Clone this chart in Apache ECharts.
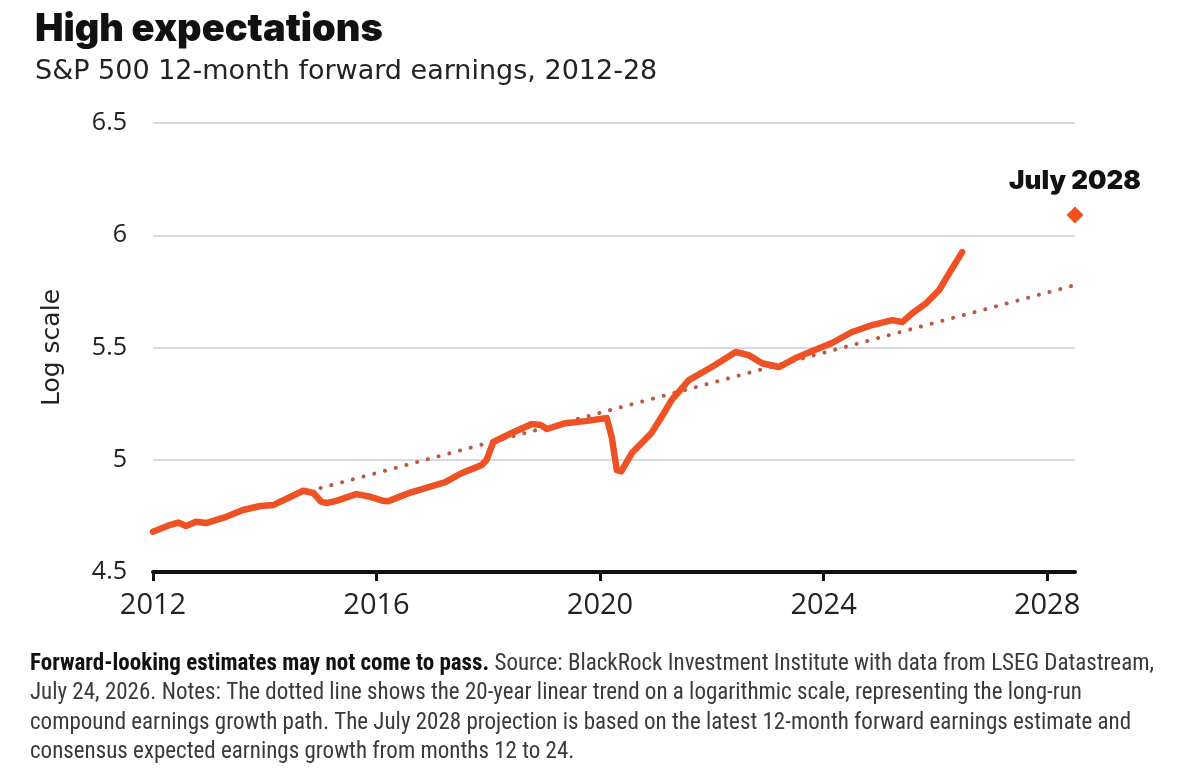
<!DOCTYPE html>
<html>
<head>
    <meta charset="UTF-8">
    <title>High expectations</title>
    <script src="https://cdn.jsdelivr.net/npm/echarts@6/dist/echarts.min.js"></script>
    <style>
        html, body { margin: 0; padding: 0; background: #fff; }
        #chart { width: 1179px; height: 771px; }
    </style>
</head>
<body>
    <div id="chart"></div>
    <script type="text/javascript">
        // S&P 500 12-month forward earnings (log)
        var years = [2012.0, 2012.3, 2012.45, 2012.59, 2012.77, 2012.95, 2013.31, 2013.61, 2013.92, 2014.15,
            2014.38, 2014.69, 2014.87, 2015.01, 2015.1, 2015.28, 2015.64, 2015.89, 2016.12, 2016.21,
            2016.35, 2016.62, 2017.23, 2017.52, 2017.88, 2017.97, 2018.09, 2018.42, 2018.78, 2018.94,
            2019.05, 2019.38, 2019.74, 2020.12, 2020.21, 2020.3, 2020.38, 2020.57, 2020.92, 2021.1,
            2021.28, 2021.59, 2022.0, 2022.43, 2022.66, 2022.9, 2023.2, 2023.5, 2023.92, 2024.15,
            2024.51, 2024.87, 2025.23, 2025.41, 2025.59, 2025.84, 2026.07, 2026.25, 2026.48];
        var earnings = [4.679, 4.709, 4.72, 4.705, 4.724, 4.718, 4.746, 4.776, 4.794, 4.798,
            4.825, 4.862, 4.852, 4.813, 4.807, 4.817, 4.847, 4.835, 4.817, 4.815,
            4.829, 4.855, 4.90, 4.94, 4.976, 4.999, 5.079, 5.119, 5.159, 5.155,
            5.137, 5.163, 5.172, 5.186, 5.10, 4.954, 4.948, 5.03, 5.119, 5.19,
            5.266, 5.355, 5.413, 5.48, 5.466, 5.43, 5.413, 5.453, 5.497, 5.52,
            5.569, 5.60, 5.622, 5.613, 5.653, 5.698, 5.756, 5.831, 5.925];

        // 20-year log-linear trend (dotted)
        var trendYears = [2015.0, 2028.5];
        var trendValues = [4.874, 5.778];

        // July 2028 projection
        var projYear = 2028.5;
        var projValue = 6.09;
        var projLabel = 'July 2028';

        var xTicks = [2012, 2016, 2020, 2024, 2028];

        var lineData = years.map(function (y, i) { return [y, earnings[i]]; });
        var trendData = trendYears.map(function (y, i) { return [y, trendValues[i]]; });

        var chart = echarts.init(document.getElementById('chart'));
        var font = '"Open Sans", "Noto Sans", sans-serif';
        var wideFont = '"DejaVu Sans", "Open Sans", sans-serif';
        var boldFont = 'Inter, Roboto, sans-serif';
        var noteFont = '"Liberation Sans Narrow", "Roboto Condensed", Roboto, sans-serif';

        var option = {
            animation: false,
            backgroundColor: '#fff',
            title: {
                text: 'High expectations',
                subtext: 'S&P 500 12-month forward earnings, 2012-28',
                left: 30,
                top: 6,
                itemGap: 9,
                textStyle: { fontFamily: boldFont, fontSize: 38, fontWeight: 900, color: '#111' },
                subtextStyle: { fontFamily: wideFont, fontSize: 27, color: '#222' }
            },
            grid: { left: 153, right: 104, top: 123, bottom: 199 },
            xAxis: {
                type: 'value',
                min: 2012,
                max: 2028.5,
                interval: 4,
                axisLine: { lineStyle: { color: '#111', width: 4 } },
                axisTick: { show: true, length: 9, customValues: xTicks, lineStyle: { color: '#111', width: 3 } },
                axisLabel: {
                    customValues: xTicks,
                    formatter: function (v) { return String(v); },
                    fontFamily: font, fontSize: 29, color: '#222', margin: 19
                },
                splitLine: { show: false }
            },
            yAxis: {
                type: 'value',
                min: 4.5,
                max: 6.5,
                interval: 0.5,
                name: 'Log scale',
                nameLocation: 'middle',
                nameRotate: 90,
                nameGap: 88,
                nameTextStyle: { fontFamily: wideFont, fontSize: 25, color: '#222' },
                axisLine: { show: false },
                axisTick: { show: false },
                axisLabel: { fontFamily: font, fontSize: 25, color: '#222', margin: 26 },
                splitLine: { lineStyle: { color: '#d9d9e1', width: 2 } }
            },
            series: [
                {
                    name: 'Trend',
                    type: 'line',
                    data: trendData,
                    symbol: 'none',
                    z: 1,
                    lineStyle: { color: '#bb5840', width: 4, type: [0.1, 11], cap: 'round' }
                },
                {
                    name: 'Forward earnings',
                    type: 'line',
                    data: lineData,
                    symbol: 'none',
                    z: 2,
                    lineStyle: { color: '#ee5123', width: 6.5, join: 'round', cap: 'round' }
                },
                {
                    name: 'Projection',
                    type: 'scatter',
                    data: [[projYear, projValue]],
                    clip: false,
                    symbol: 'diamond',
                    symbolSize: [17, 17],
                    itemStyle: { color: '#f0501e', opacity: 1 },
                    z: 3,
                    label: {
                        show: true,
                        position: 'top',
                        distance: 12,
                        formatter: projLabel,
                        opacity: 1,
                        fontFamily: boldFont, fontSize: 26, fontWeight: 900, color: '#111'
                    }
                }
            ],
            graphic: [
                {
                    type: 'text',
                    left: 30,
                    top: 649,
                    style: {
                        text: '{b|Forward-looking estimates may not come to pass.} Source: BlackRock Investment Institute with data from LSEG Datastream,\n' +
                            'July 24, 2026. Notes: The dotted line shows the 20-year linear trend on a logarithmic scale, representing the long-run\n' +
                            'compound earnings growth path. The July 2028 projection is based on the latest 12-month forward earnings estimate and\n' +
                            'consensus expected earnings growth from months 12 to 24.',
                        fontFamily: noteFont,
                        fontSize: 23,
                        lineHeight: 29.5,
                        fill: '#3a3a3a',
                        rich: {
                            b: {
                                fontFamily: noteFont,
                                fontSize: 23,
                                fontWeight: 'bold',
                                lineHeight: 29.5,
                                fill: '#111'
                            }
                        }
                    }
                }
            ]
        };

        chart.setOption(option);
    </script>
</body>
</html>
